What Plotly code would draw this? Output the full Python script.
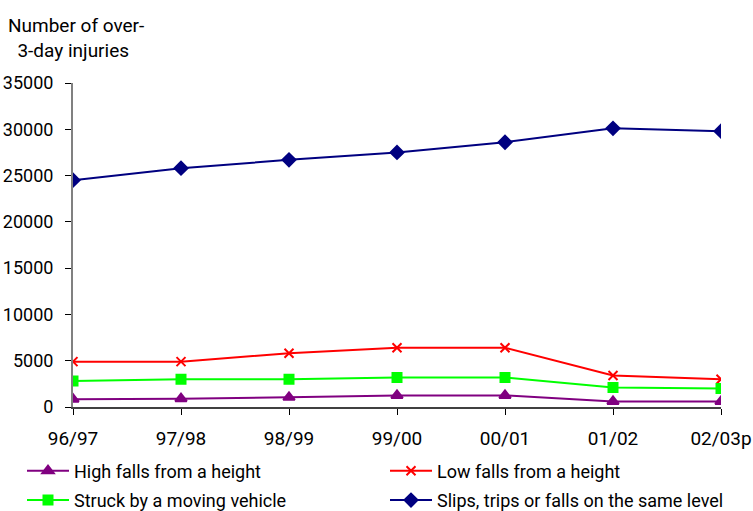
import plotly.graph_objects as go

years = ["96/97", "97/98", "98/99", "99/00", "00/01", "01/02", "02/03p"]
high_falls = [850, 900, 1050, 1250, 1250, 600, 600]
low_falls = [4900, 4900, 5800, 6400, 6400, 3400, 3000]
struck_vehicle = [2800, 3000, 3000, 3200, 3200, 2100, 2000]
slips_trips = [24500, 25800, 26700, 27500, 28600, 30100, 29800]
y_ticks = [0, 5000, 10000, 15000, 20000, 25000, 30000, 35000]

FONT = "Roboto, Liberation Sans, sans-serif"
FS = 19
TICK_FS = 18
LEGEND_FS = 18

# (name, values, colour, marker symbol, marker size, legend column)
series = [
    ("High falls from a height", high_falls, "#800080", "triangle-up", 10, "legend"),
    ("Low falls from a height", low_falls, "#FF0000", "x-thin-open", 9, "legend2"),
    ("Struck by a moving vehicle", struck_vehicle, "#00FF00", "square", 9, "legend"),
    ("Slips, trips or falls on the same level", slips_trips, "#000080", "diamond", 10, "legend2"),
]

fig = go.Figure()
for i, (name, vals, color, symbol, size, leg) in enumerate(series):
    fig.add_trace(go.Scatter(
        x=years, y=vals, name=name, mode="lines+markers",
        legend=leg, legendgroup=f"g{i}",
        line=dict(color=color, width=2),
        marker=dict(symbol=symbol, size=size, color=color,
                    line=dict(color=color, width=2)),
    ))

legend_common = dict(
    orientation="v", xref="container", yref="container",
    xanchor="left", yanchor="top", y=0.1145,
    font=dict(family=FONT, size=LEGEND_FS), itemwidth=42,
    tracegroupgap=3, bgcolor="rgba(0,0,0,0)",
)

fig.update_layout(
    width=753, height=511,
    margin=dict(l=73, r=32, t=83, b=104, autoexpand=False),
    paper_bgcolor="white", plot_bgcolor="white",
    font=dict(family=FONT, size=FS, color="black"),
    showlegend=True,
    legend=dict(x=22 / 753, **legend_common),
    legend2=dict(x=385 / 753, **legend_common),
    xaxis=dict(
        type="category", range=[0, 6], showgrid=False, zeroline=False,
        showline=True, linecolor="#404040", linewidth=2,
        ticks="outside", ticklen=6, tickcolor="black",
        tickfont=dict(size=FS), ticklabelstandoff=7, automargin=False,
    ),
    yaxis=dict(
        range=[0, 35000], tickvals=y_ticks, tickformat="d",
        showgrid=False, zeroline=False,
        showline=True, linecolor="#808080", linewidth=2,
        ticks="outside", ticklen=6, tickcolor="black",
        tickfont=dict(size=TICK_FS), ticklabelstandoff=8, automargin=False,
    ),
    # inner halves of the crossing tick marks
    xaxis2=dict(
        overlaying="x", anchor="y", range=[0, 6], dtick=1, tick0=0,
        showticklabels=False, showgrid=False, zeroline=False, showline=False,
        ticks="inside", ticklen=6, tickcolor="black", automargin=False,
    ),
    yaxis2=dict(
        overlaying="y", anchor="x", range=[0, 35000], tickvals=y_ticks,
        showticklabels=False, showgrid=False, zeroline=False, showline=False,
        ticks="inside", ticklen=6, tickcolor="black", automargin=False,
    ),
    annotations=[
        dict(text="Number of over-<br>  3-day injuries", xref="paper", yref="paper",
             x=-0.103, y=1.219, xanchor="left", yanchor="top", showarrow=False,
             align="left", font=dict(size=FS)),
    ],
)

fig.write_html("out.html")
